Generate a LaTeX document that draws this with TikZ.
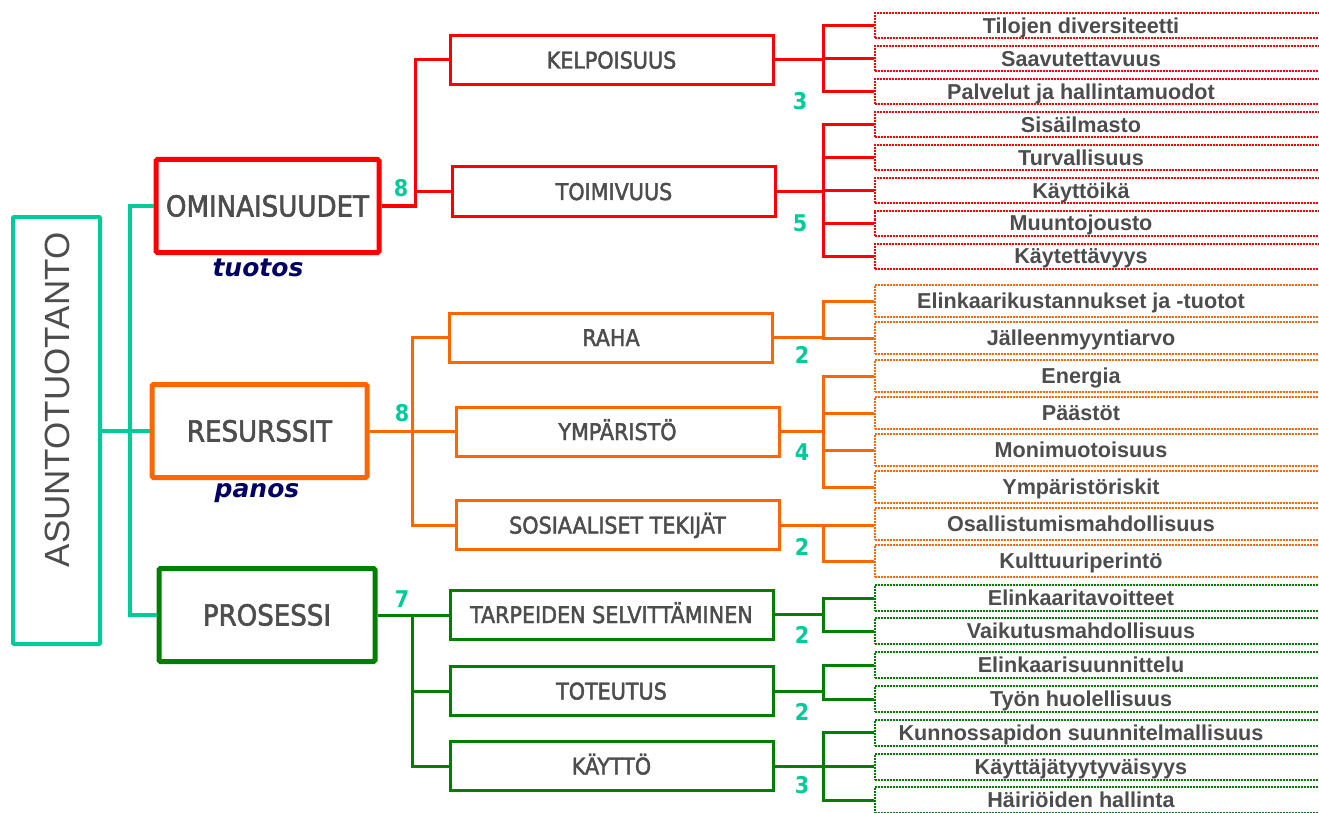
\documentclass[tikz,border=0pt]{standalone}
\usepackage{fontspec}
\setmainfont{Liberation Sans}
\newfontfamily\tah[FakeBold=2]{DejaVu Sans Condensed}
\newfontfamily\tahn{DejaVu Sans Condensed}
\newfontfamily\vrd{DejaVu Sans}
\definecolor{cred}{HTML}{FF0000}
\definecolor{corange}{HTML}{FF6600}
\definecolor{cgreen}{HTML}{008000}
\definecolor{cteal}{HTML}{00CC99}
\definecolor{cgray}{HTML}{4D4D4D}
\definecolor{cnavy}{HTML}{000066}
\newcommand\lf[1]{\makebox[412pt]{#1}\hspace*{44pt}}
\begin{document}
\begin{tikzpicture}[x=1pt,y=-1pt,
  lone/.style={draw, line width=5pt, rounded corners=1.5pt, minimum height=93pt, inner sep=0pt,
    text=cgray, font=\tah\fontsize{29}{29}\selectfont, text height=21pt, text depth=0pt},
  ltwo/.style={draw, line width=3pt, minimum width=323pt, minimum height=49pt, inner sep=0pt,
    text=cgray, font=\tah\fontsize{23}{23}\selectfont, text height=17pt, text depth=0pt},
  leaf/.style={draw, line width=2pt, dash pattern=on 2pt off 1pt, anchor=west, inner sep=0pt,
    text=cgray, font=\bfseries\fontsize{21.6}{21.6}\selectfont, text height=15.5pt, text depth=0pt},
  rleaf/.style={leaf, draw=cred, minimum height=25pt},
  oleaf/.style={leaf, draw=corange, minimum height=32pt},
  gleaf/.style={leaf, draw=cgreen, minimum height=26pt},
  num/.style={text=cteal, font=\tahn\bfseries\fontsize{23}{23}\selectfont, inner sep=0pt},
  sub/.style={text=cnavy, font=\vrd\bfseries\itshape\fontsize{25}{25}\selectfont, inner sep=0pt},
  tl/.style={draw=cteal, line width=4pt},
  rl/.style={draw=cred, line width=3pt},
  ol/.style={draw=corange, line width=3pt},
  gl/.style={draw=cgreen, line width=3pt}]
\clip (0,0) rectangle (1319,813);
\fill[white] (0,0) rectangle (1319,813);

% root
\node[draw=cteal, line width=4pt, rounded corners=1pt, minimum width=87pt, minimum height=427pt, inner sep=0pt] (root) at (56.5,430.5) {};
\node[rotate=90, text=cgray, font=\fontsize{35}{35}\selectfont, inner sep=0pt] (roottxt) at (57,400) {ASUNTOTUOTANTO};

% level 1
\node[lone, draw=cred, minimum width=223pt] (omi) at (267.5,206) {OMINAISUUDET};
\node[lone, draw=corange, minimum width=215pt] (res) at (259.5,431) {RESURSSIT};
\node[lone, draw=cgreen, minimum width=216pt] (pro) at (267,615) {PROSESSI};
\node[sub] (tuotos) at (258,268) {tuotos};
\node[sub] (panos) at (257,493) {panos};

% level 2
\node[ltwo, draw=cred] (kel) at (611.5,60) {KELPOISUUS};
\node[ltwo, draw=cred] (toi) at (614,191.5) {TOIMIVUUS};
\node[ltwo, draw=corange] (raha) at (611,337.5) {RAHA};
\node[ltwo, draw=corange] (ymp) at (617.5,431.5) {YMPÄRISTÖ};
\node[ltwo, draw=corange] (sos) at (617.5,525) {SOSIAALISET TEKIJÄT};
\node[ltwo, draw=cgreen] (tar) at (611.5,614.5) {TARPEIDEN SELVITTÄMINEN};
\node[ltwo, draw=cgreen] (tot) at (611.5,691) {TOTEUTUS};
\node[ltwo, draw=cgreen] (kay) at (611.5,766) {KÄYTTÖ};

% leaves
\node[rleaf] (r1) at (874,26) {\lf{Tilojen diversiteetti}};
\node[rleaf] (r2) at (874,59) {\lf{Saavutettavuus}};
\node[rleaf] (r3) at (874,91.5) {\lf{Palvelut ja hallintamuodot}};
\node[rleaf] (r4) at (874,125) {\lf{Sisäilmasto}};
\node[rleaf] (r5) at (874,157.5) {\lf{Turvallisuus}};
\node[rleaf] (r6) at (874,190.5) {\lf{Käyttöikä}};
\node[rleaf] (r7) at (874,223) {\lf{Muuntojousto}};
\node[rleaf] (r8) at (874,256) {\lf{Käytettävyys}};
\node[oleaf] (o1) at (874,301) {\lf{Elinkaarikustannukset ja -tuotot}};
\node[oleaf] (o2) at (874,338) {\lf{Jälleenmyyntiarvo}};
\node[oleaf] (o3) at (874,376) {\lf{Energia}};
\node[oleaf] (o4) at (874,413) {\lf{Päästöt}};
\node[oleaf] (o5) at (874,450) {\lf{Monimuotoisuus}};
\node[oleaf] (o6) at (874,487) {\lf{Ympäristöriskit}};
\node[oleaf] (o7) at (874,524) {\lf{Osallistumismahdollisuus}};
\node[oleaf] (o8) at (874,561) {\lf{Kulttuuriperintö}};
\node[gleaf] (g1) at (874,598) {\lf{Elinkaaritavoitteet}};
\node[gleaf] (g2) at (874,631) {\lf{Vaikutusmahdollisuus}};
\node[gleaf] (g3) at (874,665) {\lf{Elinkaarisuunnittelu}};
\node[gleaf] (g4) at (874,699) {\lf{Työn huolellisuus}};
\node[gleaf] (g5) at (874,732.5) {\lf{Kunnossapidon suunnitelmallisuus}};
\node[gleaf] (g6) at (874,766.5) {\lf{Käyttäjätyytyväisyys}};
\node[gleaf] (g7) at (874,800) {\lf{Häiriöiden hallinta}};

% trunk coordinates
\coordinate (tx) at (130,0);
\coordinate (rx) at (415,0);
\coordinate (ox) at (412,0);
\coordinate (gx) at (412,0);
\coordinate (bx) at (823,0);

% teal connectors
\draw[tl] (root.east |- res.west) -- (res.west);
\draw[tl] (omi.west) -| (tx |- pro.west) -- (pro.west);

% red connectors
\draw[rl] (omi.east) -| (rx |- kel.west) -- (kel.west);
\draw[rl] (rx |- toi.west) -- (toi.west);
\draw[rl] (kel.east) -- (bx |- kel.east);
\draw[rl] (r1.west) -| (bx |- r3.west) -- (r3.west);
\draw[rl] (bx |- r2.west) -- (r2.west);
\draw[rl] (toi.east) -- (bx |- toi.east);
\draw[rl] (r4.west) -| (bx |- r8.west) -- (r8.west);
\draw[rl] (bx |- r5.west) -- (r5.west);
\draw[rl] (bx |- r6.west) -- (r6.west);
\draw[rl] (bx |- r7.west) -- (r7.west);

% orange connectors
\draw[ol] (res.east) -- (res.east -| ymp.west);
\draw[ol] (raha.west) -| (ox |- sos.west) -- (sos.west);
\draw[ol] (raha.east) -- (bx |- raha.east);
\draw[ol] (o1.west) -| (bx |- o2.west) -- (o2.west);
\draw[ol] (ymp.east) -- (bx |- ymp.east);
\draw[ol] (o3.west) -| (bx |- o6.west) -- (o6.west);
\draw[ol] (bx |- o4.west) -- (o4.west);
\draw[ol] (bx |- o5.west) -- (o5.west);
\draw[ol] (sos.east) -- (sos.east -| o7.west);
\draw[ol] (bx |- o7.west) |- (o8.west);

% green connectors
\draw[gl] (pro.east) -- (pro.east -| tar.west);
\draw[gl] (gx |- tar.west) |- (kay.west);
\draw[gl] (gx |- tot.west) -- (tot.west);
\draw[gl] (tar.east) -- (bx |- tar.east);
\draw[gl] (g1.west) -| (bx |- g2.west) -- (g2.west);
\draw[gl] (tot.east) -- (bx |- tot.east);
\draw[gl] (g3.west) -| (bx |- g4.west) -- (g4.west);
\draw[gl] (kay.east) -- (bx |- kay.east);
\draw[gl] (g5.west) -| (bx |- g7.west) -- (g7.west);
\draw[gl] (bx |- g6.west) -- (g6.west);

% counts
\node[num] (n1) at (401,188) {8};
\node[num] (n2) at (800,101) {3};
\node[num] (n3) at (800,223) {5};
\node[num] (n4) at (402,413) {8};
\node[num] (n5) at (802,355) {2};
\node[num] (n6) at (802,452) {4};
\node[num] (n7) at (802,547) {2};
\node[num] (n8) at (402,599) {7};
\node[num] (n9) at (802,635) {2};
\node[num] (n10) at (802,712) {2};
\node[num] (n11) at (802,785) {3};
\end{tikzpicture}
\end{document}
